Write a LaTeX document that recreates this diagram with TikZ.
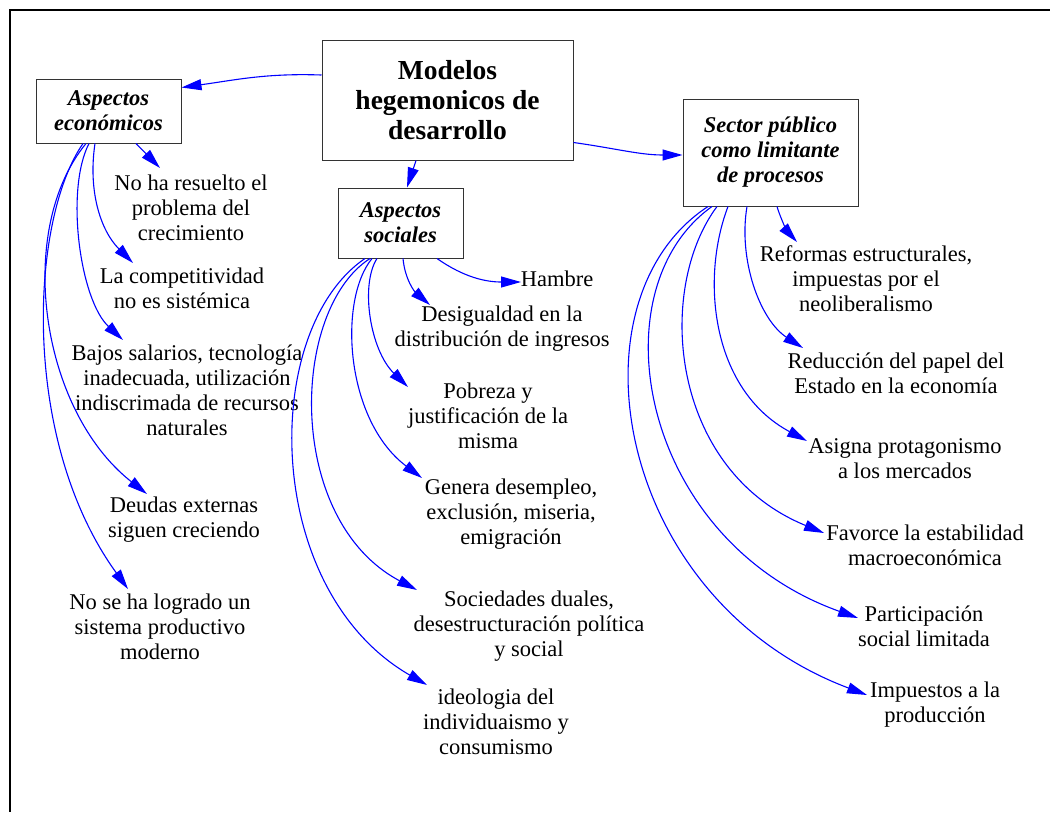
\documentclass[tikz,border=0pt]{standalone}
\usepackage{fontspec}
\setmainfont{LiberationSerif}[Extension=.ttf,
  UprightFont=*-Regular, BoldFont=*-Bold,
  ItalicFont=*-Italic, BoldItalicFont=*-BoldItalic]
\usetikzlibrary{arrows.meta}
\definecolor{linkblue}{RGB}{0,0,255}
\begin{document}
\begin{tikzpicture}[x=1pt,y=-1pt,
  lbl/.style={font=\fontsize{22.5}{25}\selectfont, align=center, inner sep=0pt},
  box/.style={draw=black!80, line width=1pt, align=center, inner sep=0pt},
  hub/.style={box, font=\fontsize{22.5}{25}\selectfont\bfseries\itshape},
  link/.style={draw=linkblue, line width=1.1pt, -{Triangle[length=20pt,width=11pt]}},
]
\useasboundingbox (0,0) rectangle (1050,812);
% frame
\draw[line width=2pt] (1050,10) -- (10,10) -- (10,812);

% boxes
\node[box, minimum width=251pt, minimum height=120pt,
      font=\fontsize{27.5}{30}\selectfont\bfseries] (main) at (447.5,100)
      {Modelos\\hegemonicos de\\desarrollo};
\node[hub, minimum width=145pt, minimum height=64pt] (econ) at (108.5,111) {Aspectos\\económicos};
\node[hub, minimum width=125pt, minimum height=70pt] (soc) at (400.5,223) {Aspectos\\sociales};
\node[hub, minimum width=175pt, minimum height=107pt] (pub) at (770.5,152.5) {Sector público\\como limitante\\de procesos};

% economic aspects
\node[lbl] (e1) at (191,208) {No ha resuelto el\\problema del\\crecimiento};
\node[lbl] (e2) at (182,288) {La competitividad\\no es sistémica};
\node[lbl] (e3) at (187,390) {Bajos salarios, tecnología\\inadecuada, utilización\\indiscrimada de recursos\\naturales};
\node[lbl] (e4) at (184,520) {Deudas externas\\siguen creciendo};
\node[lbl] (e5) at (160,627) {No se ha logrado un\\sistema productivo\\moderno};

% social aspects
\node[lbl] (s1) at (557,279) {Hambre};
\node[lbl] (s2) at (502,329) {Desigualdad en la\\distribución de ingresos};
\node[lbl] (s3) at (488,416) {Pobreza y\\justificación de la\\misma};
\node[lbl] (s4) at (511,514) {Genera desempleo,\\exclusión, miseria,\\emigración};
\node[lbl] (s5) at (529,626) {Sociedades duales,\\desestructuración política\\y social};
\node[lbl] (s6) at (496,722) {ideologia del\\individuaismo y\\consumismo};

% public sector
\node[lbl] (p1) at (866,279) {Reformas estructurales,\\impuestas por el\\neoliberalismo};
\node[lbl] (p2) at (896,373) {Reducción del papel del\\Estado en la economía};
\node[lbl] (p3) at (905,459) {Asigna protagonismo\\a los mercados};
\node[lbl] (p4) at (925,545) {Favorce la estabilidad\\macroeconómica};
\node[lbl] (p5) at (924,626) {Participación\\social limitada};
\node[lbl] (p6) at (935,705) {Impuestos a la\\producción};

% top-level links
\draw[link] ([shift={(0,-25)}]main.west) to[out=178,in=8] ([shift={(0,9)}]econ.north east);
\draw[link] ([shift={(-31.5,0)}]main.south) -- ([shift={(6.5,0)}]soc.north);
\draw[link] ([shift={(0,-18)}]main.south east) to[out=-8,in=180] ([shift={(0,2.5)}]pub.west);

% economic links
\draw[link] ([shift={(27.5,0)}]econ.south) -- ([shift={(-31,-40)}]e1.center);
\draw[link] ([shift={(-13.5,0)}]econ.south) .. controls (88,190) and (100,230) .. ([shift={(-49,-25)}]e2.center);
\draw[link] ([shift={(-19.5,0)}]econ.south) .. controls (65,190) and (80,300) .. ([shift={(-64,-50)}]e3.center);
\draw[link] ([shift={(-22.5,0)}]econ.south) .. controls (15,230) and (40,410) .. ([shift={(-37,-26)}]e4.center);
\draw[link] ([shift={(-25.5,0)}]econ.south) .. controls (30,220) and (20,440) .. ([shift={(-32,-38)}]e5.center);

% social links
\draw[link] ([shift={(36.5,0)}]soc.south) to[out=-35,in=180] ([shift={(-36,3)}]s1.center);
\draw[link] ([shift={(2.5,0)}]soc.south) .. controls (405,280) and (415,292) .. ([shift={(-72,-24)}]s2.center);
\draw[link] ([shift={(-23.5,0)}]soc.south) .. controls (360,285) and (370,350) .. ([shift={(-80,-29)}]s3.center);
\draw[link] ([shift={(-28.5,0)}]soc.south) .. controls (338,300) and (345,420) .. ([shift={(-89,-36)}]s4.center);
\draw[link] ([shift={(-30.5,0)}]soc.south) .. controls (290,310) and (285,520) .. ([shift={(-112,-36)}]s5.center);
\draw[link] ([shift={(-35.5,0)}]soc.south) .. controls (260,330) and (262,590) .. ([shift={(-69,-37)}]s6.center);

% public sector links
\draw[link] ([shift={(6.5,0)}]pub.south) .. controls (781,220) and (788,232) .. ([shift={(-69,-37)}]p1.center);
\draw[link] ([shift={(-23.5,0)}]pub.south) .. controls (738,260) and (760,320) .. ([shift={(-93,-25)}]p2.center);
\draw[link] ([shift={(-42.5,0)}]pub.south) .. controls (700,280) and (712,390) .. ([shift={(-98,-18)}]p3.center);
\draw[link] ([shift={(-53.5,0)}]pub.south) .. controls (655,290) and (670,470) .. ([shift={(-101,-12)}]p4.center);
\draw[link] ([shift={(-58.5,0)}]pub.south) .. controls (595,290) and (640,540) .. ([shift={(-66,-8)}]p5.center);
\draw[link] ([shift={(-62.5,0)}]pub.south) .. controls (565,300) and (615,600) .. ([shift={(-68,-10)}]p6.center);
\end{tikzpicture}
\end{document}
